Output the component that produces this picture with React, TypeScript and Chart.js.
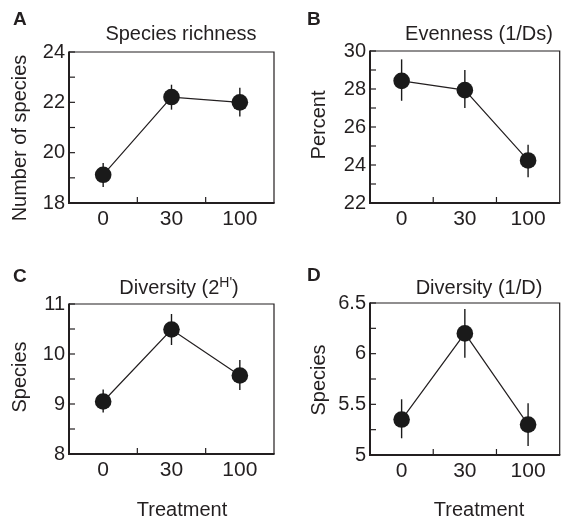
import React, { useEffect, useRef } from 'react';
import { Chart, registerables } from 'chart.js';

Chart.register(...registerables);

// ---------- data ----------
const treatments = ['0', '30', '100'];

const richnessMean = [19.12, 22.21, 22.0];
const richnessLow = [18.64, 21.71, 21.44];
const richnessHigh = [19.59, 22.7, 22.58];
const richnessAxis = [18, 24, 2, 1]; // min, max, label step, minor tick step

const evennessMean = [28.43, 27.94, 24.24];
const evennessLow = [27.38, 27.0, 23.36];
const evennessHigh = [29.56, 29.0, 25.07];
const evennessAxis = [22, 30, 2, 1];

const shannonMean = [9.05, 10.49, 9.57];
const shannonLow = [8.83, 10.18, 9.28];
const shannonHigh = [9.29, 10.8, 9.88];
const shannonAxis = [8, 11, 1, 0.5];

const simpsonMean = [5.35, 6.2, 5.3];
const simpsonLow = [5.165, 5.96, 5.09];
const simpsonHigh = [5.55, 6.44, 5.51];
const simpsonAxis = [5, 6.5, 0.5, 0.25];

// ---------- styling ----------
const INK = '#231f20';
const DOT = '#1a1a1a';
const FAMILY = '"Liberation Sans", Arial, Helvetica, sans-serif';
const FONT_SIZE = 20;
const XTICK_SIZE = 21;
const YTICK_SIZE = 20;

type Panel = {
  letter: string;
  left: number;
  top: number;
  w: number;
  h: number;
  area: { l: number; r: number; t: number; b: number };
  title: string;
  titleSup: string;
  titleTail: string;
  titleX: number;
  titleY: number;
  yTitle: string;
  yTitleX: number;
  yTitleY: number;
  letterX: number;
  letterY: number;
  treatment: boolean;
  treatmentX: number;
  treatmentY: number;
  mean: number[];
  low: number[];
  high: number[];
  axis: number[];
};

const panels: Panel[] = [
  {
    letter: 'A', left: 0, top: 0, w: 284, h: 260,
    area: { l: 69, r: 274, t: 52, b: 203 },
    title: 'Species richness', titleSup: '', titleTail: '', titleX: 181, titleY: 40,
    yTitle: 'Number of species', yTitleX: 26, yTitleY: 138,
    letterX: 13, letterY: 25, treatment: false, treatmentX: 0, treatmentY: 0,
    mean: richnessMean, low: richnessLow, high: richnessHigh, axis: richnessAxis,
  },
  {
    letter: 'B', left: 284, top: 0, w: 284, h: 260,
    area: { l: 86, r: 283, t: 51, b: 203 },
    title: 'Evenness (1/Ds)', titleSup: '', titleTail: '', titleX: 195, titleY: 40,
    yTitle: 'Percent', yTitleX: 41, yTitleY: 125,
    letterX: 23, letterY: 25, treatment: false, treatmentX: 0, treatmentY: 0,
    mean: evennessMean, low: evennessLow, high: evennessHigh, axis: evennessAxis,
  },
  {
    letter: 'C', left: 0, top: 260, w: 284, h: 258,
    area: { l: 69, r: 274, t: 44, b: 194 },
    title: 'Diversity (2', titleSup: "H'", titleTail: ')', titleX: 179, titleY: 34,
    yTitle: 'Species', yTitleX: 26, yTitleY: 117,
    letterX: 13, letterY: 22, treatment: true, treatmentX: 182, treatmentY: 256,
    mean: shannonMean, low: shannonLow, high: shannonHigh, axis: shannonAxis,
  },
  {
    letter: 'D', left: 284, top: 260, w: 284, h: 258,
    area: { l: 86, r: 283, t: 43, b: 195 },
    title: 'Diversity (1/D)', titleSup: '', titleTail: '', titleX: 195, titleY: 34,
    yTitle: 'Species', yTitleX: 41, yTitleY: 120,
    letterX: 23, letterY: 21, treatment: true, treatmentX: 195, treatmentY: 256,
    mean: simpsonMean, low: simpsonLow, high: simpsonHigh, axis: simpsonAxis,
  },
];

function makeDecor(p: Panel) {
  return {
    id: 'panelDecor' + p.letter,
    beforeDatasetsDraw(chart: any) {
      const { ctx, chartArea } = chart;
      const { left, right, top, bottom } = chartArea;
      const x = chart.scales.x;
      const y = chart.scales.y;
      ctx.save();
      ctx.strokeStyle = INK;
      ctx.lineCap = 'butt';
      // top and right frame (thin)
      ctx.lineWidth = 1.2;
      ctx.beginPath();
      ctx.moveTo(left, top);
      ctx.lineTo(right, top);
      ctx.lineTo(right, bottom);
      ctx.stroke();
      // left and bottom axes (thicker)
      ctx.lineWidth = 2;
      ctx.beginPath();
      ctx.moveTo(left, top - 0.6);
      ctx.lineTo(left, bottom);
      ctx.lineTo(right + 0.6, bottom);
      ctx.stroke();
      // inward y ticks (major and minor)
      ctx.lineWidth = 1.2;
      const [min, max, , minor] = p.axis;
      const n = Math.round((max - min) / minor);
      for (let k = 0; k <= n; k++) {
        const py = y.getPixelForValue(min + k * minor);
        ctx.beginPath();
        ctx.moveTo(left, py);
        ctx.lineTo(left + 6, py);
        ctx.stroke();
      }
      // inward x ticks between categories
      for (let i = 0; i < treatments.length - 1; i++) {
        const px = (x.getPixelForValue(i) + x.getPixelForValue(i + 1)) / 2;
        ctx.beginPath();
        ctx.moveTo(px, bottom);
        ctx.lineTo(px, bottom - 6);
        ctx.stroke();
      }
      // error bars
      ctx.strokeStyle = DOT;
      ctx.lineWidth = 1.4;
      for (let i = 0; i < p.mean.length; i++) {
        const px = x.getPixelForValue(i);
        ctx.beginPath();
        ctx.moveTo(px, y.getPixelForValue(p.low[i]));
        ctx.lineTo(px, y.getPixelForValue(p.high[i]));
        ctx.stroke();
      }
      ctx.restore();
    },
    afterDraw(chart: any) {
      const { ctx } = chart;
      ctx.save();
      ctx.fillStyle = INK;
      // panel letter
      ctx.font = `bold 19px ${FAMILY}`;
      ctx.textAlign = 'left';
      ctx.textBaseline = 'alphabetic';
      ctx.fillText(p.letter, p.letterX, p.letterY);
      // title (with optional superscript)
      const main = `${FONT_SIZE}px ${FAMILY}`;
      const sup = `14px ${FAMILY}`;
      ctx.font = main;
      const w1 = ctx.measureText(p.title).width;
      const w3 = ctx.measureText(p.titleTail).width;
      ctx.font = sup;
      const w2 = p.titleSup ? ctx.measureText(p.titleSup).width : 0;
      const total = w1 + w2 + w3;
      let tx = p.titleX - total / 2;
      ctx.font = main;
      ctx.fillText(p.title, tx, p.titleY);
      tx += w1;
      if (p.titleSup) {
        ctx.font = sup;
        ctx.fillText(p.titleSup, tx, p.titleY - 7);
        tx += w2;
        ctx.font = main;
        ctx.fillText(p.titleTail, tx, p.titleY);
      }
      // y axis title
      ctx.font = main;
      ctx.save();
      ctx.translate(p.yTitleX, p.yTitleY);
      ctx.rotate(-Math.PI / 2);
      ctx.textAlign = 'center';
      ctx.fillText(p.yTitle, 0, 0);
      ctx.restore();
      // x axis title
      if (p.treatment) {
        ctx.textAlign = 'center';
        ctx.fillText('Treatment', p.treatmentX, p.treatmentY);
      }
      ctx.restore();
    },
  };
}

function PanelChart({ p }: { p: Panel }) {
  const ref = useRef<HTMLCanvasElement | null>(null);
  useEffect(() => {
    if (!ref.current) return;
    const [min, max, step] = p.axis;
    const chart = new Chart(ref.current, {
      type: 'line',
      data: {
        labels: treatments,
        datasets: [
          {
            data: p.mean,
            borderColor: INK,
            borderWidth: 1.2,
            pointRadius: 8.3,
            pointHoverRadius: 8.3,
            pointBackgroundColor: DOT,
            pointBorderColor: DOT,
            pointBorderWidth: 0,
            tension: 0,
            fill: false,
          },
        ],
      },
      options: {
        animation: false,
        responsive: false,
        devicePixelRatio: 1,
        events: [],
        layout: { padding: { left: 0, top: p.area.t, right: p.w - p.area.r, bottom: 0 } },
        plugins: { legend: { display: false }, tooltip: { enabled: false }, title: { display: false } },
        scales: {
          x: {
            type: 'category',
            offset: true,
            grid: { display: false, drawTicks: false },
            border: { display: false },
            ticks: {
              font: { family: FAMILY, size: XTICK_SIZE },
              color: INK,
              padding: 4,
              maxRotation: 0,
              autoSkip: false,
            },
            afterFit: (s: any) => {
              s.height = p.h - p.area.b;
            },
          },
          y: {
            type: 'linear',
            min,
            max,
            grid: { display: false, drawTicks: false },
            border: { display: false },
            ticks: {
              font: { family: FAMILY, size: YTICK_SIZE },
              color: INK,
              padding: 4,
              stepSize: step,
              callback: (v: any) => String(v),
            },
            afterFit: (s: any) => {
              s.width = p.area.l;
            },
          },
        },
      } as any,
      plugins: [makeDecor(p)],
    });
    return () => chart.destroy();
  }, [p]);
  return (
    <canvas
      ref={ref}
      width={p.w}
      height={p.h}
      style={{ position: 'absolute', left: p.left, top: p.top, width: p.w, height: p.h }}
    />
  );
}

export default function App() {
  return (
    <div style={{ position: 'absolute', left: 0, top: 0, width: 568, height: 518, background: '#fff' }}>
      {panels.map((p) => (
        <PanelChart key={p.letter} p={p} />
      ))}
    </div>
  );
}
